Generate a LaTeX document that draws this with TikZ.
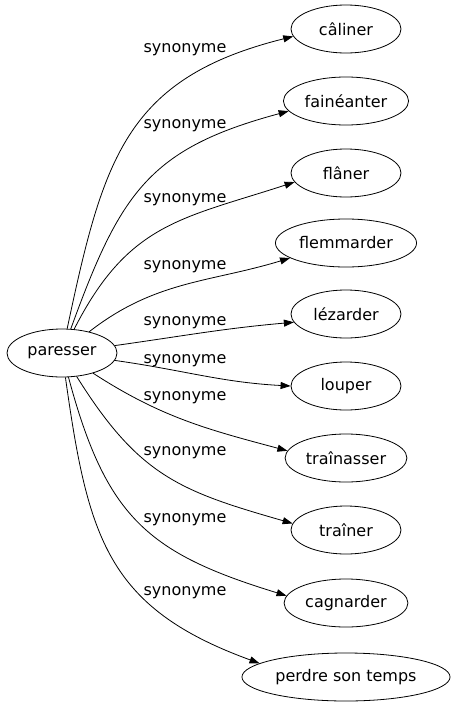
\documentclass[tikz,border=0pt]{standalone}
\usepackage{fontspec}
\setmainfont{DejaVu Sans}
\usetikzlibrary{shapes.geometric, arrows.meta}
\tikzstyle{word} = [ellipse, draw=black, line width=0.8pt, minimum width=110pt, minimum height=48pt, inner xsep=3pt, text centered, font=\fontsize{16}{19}\selectfont]
\tikzstyle{rel} = [font=\fontsize{16}{19}\selectfont, text=black]
\tikzstyle{arrow} = [line width=0.8pt, -{Triangle[length=10pt,width=7pt]}]

\begin{document}
\begin{tikzpicture}[x=1pt, y=1pt, node distance=72pt]
		\useasboundingbox (0,0) rectangle (455,-707);

		\node (paresser) [word] at (62,-353) {paresser};
		\node (caliner) [word] at (346,-29) {câliner};
		\node (faineanter) [word, below of=caliner] {fainéanter};
		\node (flaner) [word, below of=faineanter] {flâner};
		\node (flemmarder) [word, below of=flaner, yshift=2pt] {flemmarder};
		\node (lezarder) [word, below of=flemmarder, yshift=1pt] {lézarder};
		\node (louper) [word, below of=lezarder] {louper};
		\node (trainasser) [word, below of=louper] {traînasser};
		\node (trainer) [word, below of=trainasser] {traîner};
		\node (cagnarder) [word, below of=trainer, yshift=-1pt] {cagnarder};
		\node (perdre) [word, below of=cagnarder, yshift=-2pt] {perdre son temps};

		\draw [arrow] (paresser) to[out=78, in=194, looseness=1.2] (caliner.188);
		\draw [arrow] (paresser) to[out=70, in=195, looseness=1.2] (faineanter.190);
		\draw [arrow] (paresser) to[out=63, in=198, looseness=1.15] (flaner.190);
		\draw [arrow] (paresser) to[out=38, in=197] (flemmarder.195);
		\draw [arrow] (paresser) to[out=8, in=185] (lezarder.189);
		\draw [arrow] (paresser) to[out=-8, in=177] (louper.180);
		\draw [arrow] (paresser) to[out=-33, in=165] (trainasser.173);
		\draw [arrow] (paresser) to[out=-58, in=164, looseness=1.15] (trainer.173);
		\draw [arrow] (paresser) to[out=-75, in=163, looseness=1.2] (cagnarder.173);
		\draw [arrow] (paresser) to[out=-82, in=160, looseness=1.2] (perdre.171);

		\node (s1) [rel] at (185,-50) {synonyme};
		\node (s2) [rel] at (185,-126) {synonyme};
		\node (s3) [rel] at (185,-200) {synonyme};
		\node (s4) [rel] at (185,-267) {synonyme};
		\node (s5) [rel] at (185,-323) {synonyme};
		\node (s6) [rel] at (185,-361) {synonyme};
		\node (s7) [rel] at (185,-398) {synonyme};
		\node (s8) [rel] at (185,-453) {synonyme};
		\node (s9) [rel] at (185,-520) {synonyme};
		\node (s10) [rel] at (185,-593) {synonyme};

\end{tikzpicture}
\end{document}
